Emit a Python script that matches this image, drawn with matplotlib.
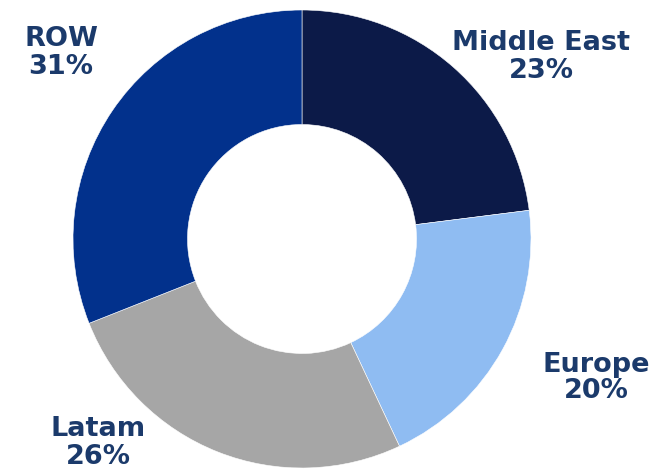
import matplotlib.pyplot as plt

regions = ["Middle East", "Europe", "Latam", "ROW"]
shares = [23, 20, 26, 31]
colors = ["#0c1a48", "#8fbcf2", "#a6a6a6", "#02318c"]
# label centres in pixels of the 661x471 canvas
label_px = [(541, 57), (596, 378), (98, 443), (61, 53)]

W, H = 661, 471
CX, CY, R = 302, 239, 229

fig = plt.figure(figsize=(W / 100, H / 100), dpi=100)
fig.patch.set_facecolor("white")
ax = fig.add_axes([(CX - R) / W, (H - CY - R) / H, 2 * R / W, 2 * R / H])

ax.pie(
    shares,
    colors=colors,
    startangle=90,
    counterclock=False,
    radius=1,
    wedgeprops=dict(width=0.5, edgecolor="white", linewidth=0.4),
)
ax.set_xlim(-1, 1)
ax.set_ylim(-1, 1)
ax.set_aspect("equal")
ax.axis("off")

for name, val, (px, py) in zip(regions, shares, label_px):
    ax.text(
        (px - CX) / R,
        (CY - py) / R,
        f"{name}\n{val}%",
        ha="center",
        va="center",
        multialignment="center",
        fontsize=19.5,
        fontweight="bold",
        color="#1b3a6b",
        linespacing=1.05,
        clip_on=False,
    )

fig.savefig("out.png", dpi=100)
